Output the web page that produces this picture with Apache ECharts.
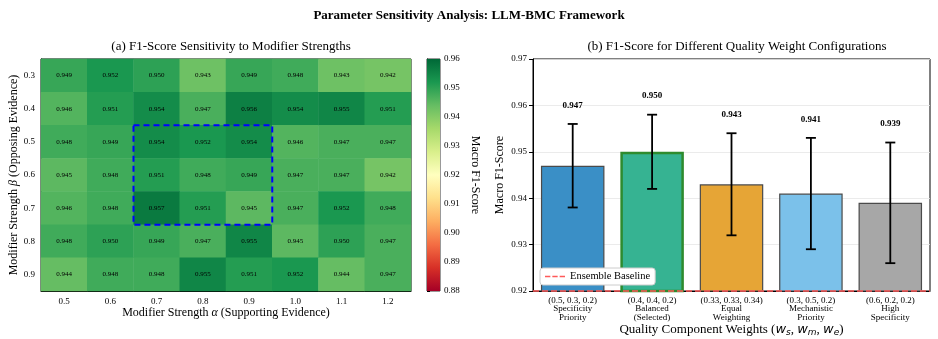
<!DOCTYPE html>
<html>
<head>
<meta charset="utf-8">
<script src="https://cdn.jsdelivr.net/npm/echarts@6/dist/echarts.min.js"></script>
<style>
  html, body { margin: 0; padding: 0; background: #fff; }
  #chart { width: 938px; height: 339px; }
</style>
</head>
<body>
<div id="chart"></div>
<script>
// Heatmap axes
const alphaLabels = ['0.5', '0.6', '0.7', '0.8', '0.9', '1.0', '1.1', '1.2'];
const betaLabels = ['0.3', '0.4', '0.5', '0.6', '0.7', '0.8', '0.9'];
// F1 values, one row per beta (top to bottom), one column per alpha
const f1Grid = [
  [0.949, 0.952, 0.950, 0.943, 0.949, 0.948, 0.943, 0.942],
  [0.946, 0.951, 0.954, 0.947, 0.956, 0.954, 0.955, 0.951],
  [0.948, 0.949, 0.954, 0.952, 0.954, 0.946, 0.947, 0.947],
  [0.945, 0.948, 0.951, 0.948, 0.949, 0.947, 0.947, 0.942],
  [0.946, 0.948, 0.957, 0.951, 0.945, 0.947, 0.952, 0.948],
  [0.948, 0.950, 0.949, 0.947, 0.955, 0.945, 0.950, 0.947],
  [0.944, 0.948, 0.948, 0.955, 0.951, 0.952, 0.944, 0.947]
];
// highlighted region: alpha index from..to, beta index from..to
const selectedBox = [2, 4, 2, 4];
const colorbarRange = [0.88, 0.96];

// Bar chart data
const weightConfigs = [
  '(0.5, 0.3, 0.2)\nSpecificity\nPriority',
  '(0.4, 0.4, 0.2)\nBalanced\n(Selected)',
  '(0.33, 0.33, 0.34)\nEqual\nWeighting',
  '(0.3, 0.5, 0.2)\nMechanistic\nPriority',
  '(0.6, 0.2, 0.2)\nHigh\nSpecificity'
];
const f1Means = [0.947, 0.950, 0.943, 0.941, 0.939];
const f1Std = [0.009, 0.008, 0.011, 0.012, 0.013];
const baselineF1 = 0.92;

const barColors = ['#3a8fc6', '#36b392', '#e6a536', '#7bc1ea', '#a7a7a7'];
const rdylgn = ['#a50026', '#d73027', '#f46d43', '#fdae61', '#fee08b', '#ffffbf',
  '#d9ef8b', '#a6d96a', '#66bd63', '#1a9850', '#006837'];

const serif = '"Liberation Serif", "DejaVu Serif", serif';

const heatData = [];
f1Grid.forEach((row, j) => row.forEach((v, i) => heatData.push([i, j, v])));

const chart = echarts.init(document.getElementById('chart'));

const option = {
  animation: false,
  textStyle: { fontFamily: serif, color: '#000' },
  title: [
    { text: 'Parameter Sensitivity Analysis: LLM-BMC Framework', left: 'center', top: 4,
      textStyle: { fontFamily: serif, fontSize: 13, fontWeight: 'bold', color: '#000' } },
    { text: '(a) F1-Score Sensitivity to Modifier Strengths', left: 226, top: 35, textAlign: 'center',
      textStyle: { fontFamily: serif, fontSize: 13, fontWeight: 'normal', color: '#000' } },
    { text: '(b) F1-Score for Different Quality Weight Configurations', left: 732, top: 35, textAlign: 'center',
      textStyle: { fontFamily: serif, fontSize: 13, fontWeight: 'normal', color: '#000' } }
  ],
  legend: {
    data: [{ name: 'Ensemble Baseline',
      icon: 'path://M0,0h8v2h-8z M11,0h8v2h-8z M22,0h8v2h-8z' }],
    left: 540, top: 268,
    orient: 'vertical',
    itemWidth: 20, itemHeight: 2,
    padding: [3, 5],
    backgroundColor: '#fff',
    borderColor: '#ccc', borderWidth: 1, borderRadius: 3,
    textStyle: { fontFamily: serif, fontSize: 10.5, color: '#000' }
  },
  visualMap: {
    show: false,
    seriesIndex: 0,
    min: colorbarRange[0], max: colorbarRange[1],
    inRange: { color: rdylgn }
  },
  grid: [
    { left: 41, top: 59, width: 370, height: 232, outerBoundsMode: 'none',
      show: true, borderColor: '#000', borderWidth: 1 },
    { left: 427, top: 59, width: 13, height: 232, outerBoundsMode: 'none',
      show: true, borderColor: '#000', borderWidth: 0.8 },
    { left: 533, top: 59, width: 397, height: 232, outerBoundsMode: 'none',
      show: true, borderColor: '#000', borderWidth: 1 }
  ],
  xAxis: [
    {
      gridIndex: 0, type: 'category', data: alphaLabels,
      axisLine: { lineStyle: { color: '#000' } },
      axisTick: { alignWithLabel: true, length: 4, lineStyle: { color: '#000' } },
      axisLabel: { fontSize: 9, color: '#000', margin: 6 },
      splitLine: { show: false },
      name: '{t|Modifier Strength }{it|α}{t| (Supporting Evidence)}',
      nameLocation: 'middle', nameGap: 16, nameMoveOverlap: false,
      nameTextStyle: { rich: {
        t: { fontFamily: serif, fontSize: 12, color: '#000' },
        it: { fontFamily: serif, fontSize: 12, fontStyle: 'italic', color: '#000' } } }
    },
    {
      gridIndex: 1, type: 'value', show: false, min: 0, max: 1
    },
    {
      gridIndex: 2, type: 'category', data: weightConfigs,
      axisLine: { lineStyle: { color: '#000' } },
      axisTick: { alignWithLabel: true, length: 4, lineStyle: { color: '#000' } },
      axisLabel: { fontSize: 9, color: '#000', lineHeight: 8.5, margin: 5, interval: 0 },
      name: '{t|Quality Component Weights (}{it|w}{s|s}{t|, }{it|w}{s|m}{t|, }{it|w}{s|e}{t|)}',
      nameLocation: 'middle', nameGap: 31, nameMoveOverlap: false,
      nameTextStyle: { rich: {
        t: { fontFamily: serif, fontSize: 13, color: '#000' },
        it: { fontFamily: '"DejaVu Sans", sans-serif', fontSize: 13, fontStyle: 'italic', color: '#000' },
        s: { fontFamily: '"DejaVu Sans", sans-serif', fontSize: 9, fontStyle: 'italic', color: '#000', padding: [6, 0, 0, 0] } } }
    }
  ],
  yAxis: [
    {
      gridIndex: 0, type: 'category', data: betaLabels, inverse: true,
      axisLine: { lineStyle: { color: '#000' } },
      axisTick: { alignWithLabel: true, length: 4, lineStyle: { color: '#000' } },
      axisLabel: { fontSize: 9, color: '#000', margin: 6 },
      name: '{t|Modifier Strength }{it|β}{t| (Opposing Evidence)}',
      nameLocation: 'middle', nameGap: 21, nameRotate: 90, nameMoveOverlap: false,
      nameTextStyle: { rich: {
        t: { fontFamily: serif, fontSize: 12, color: '#000' },
        it: { fontFamily: serif, fontSize: 12, fontStyle: 'italic', color: '#000' } } }
    },
    {
      gridIndex: 1, type: 'value', position: 'right',
      min: colorbarRange[0], max: colorbarRange[1], interval: 0.01,
      axisLine: { show: true, lineStyle: { color: '#000' } },
      axisTick: { show: true, length: 3, lineStyle: { color: '#000' } },
      axisLabel: { fontSize: 9, color: '#000', margin: 4, formatter: v => v.toFixed(2) },
      splitLine: { show: false },
      name: 'Macro F1-Score', nameLocation: 'middle', nameGap: 29, nameRotate: -90,
      nameMoveOverlap: false,
      nameTextStyle: { fontFamily: serif, fontSize: 12, color: '#000' }
    },
    {
      gridIndex: 2, type: 'value', min: 0.92, max: 0.97, interval: 0.01,
      axisLine: { show: true, lineStyle: { color: '#000' } },
      axisTick: { show: true, length: 4, lineStyle: { color: '#000' } },
      axisLabel: { fontSize: 9, color: '#000', margin: 6, formatter: v => v.toFixed(2) },
      splitLine: { show: true, lineStyle: { color: '#e6e6e6', width: 0.8 } },
      name: 'Macro F1-Score', nameLocation: 'middle', nameGap: 27, nameRotate: 90,
      nameMoveOverlap: false,
      nameTextStyle: { fontFamily: serif, fontSize: 12, color: '#000' }
    }
  ],
  series: [
    {
      type: 'heatmap', xAxisIndex: 0, yAxisIndex: 0,
      data: heatData,
      label: { show: true, fontSize: 7, color: '#000', fontFamily: serif,
        formatter: p => p.value[2].toFixed(3) },
      emphasis: { disabled: true }
    },
    {
      // dashed box around the selected region
      type: 'custom', xAxisIndex: 0, yAxisIndex: 0, silent: true, z: 10,
      data: [selectedBox],
      renderItem: (params, api) => {
        const a = api.coord([api.value(0), api.value(2)]);
        const b = api.coord([api.value(1), api.value(3)]);
        const sz = api.size([1, 1]);
        return {
          type: 'rect',
          shape: { x: a[0] - sz[0] / 2, y: a[1] - sz[1] / 2,
            width: b[0] - a[0] + sz[0], height: b[1] - a[1] + sz[1] },
          style: { fill: 'none', stroke: '#0000ff', lineWidth: 2, lineDash: [6, 4] }
        };
      }
    },
    {
      // colorbar
      type: 'custom', xAxisIndex: 1, yAxisIndex: 1, silent: true,
      data: [[0, colorbarRange[0], 1, colorbarRange[1]]],
      renderItem: (params, api) => {
        const p0 = api.coord([api.value(0), api.value(1)]);
        const p1 = api.coord([api.value(2), api.value(3)]);
        return {
          type: 'rect',
          shape: { x: p0[0], y: p1[1], width: p1[0] - p0[0], height: p0[1] - p1[1] },
          style: { fill: new echarts.graphic.LinearGradient(0, 1, 0, 0,
            rdylgn.map((c, i) => ({ offset: i / (rdylgn.length - 1), color: c }))) }
        };
      }
    },
    {
      type: 'bar', xAxisIndex: 2, yAxisIndex: 2,
      barWidth: '80%',
      data: f1Means.map((v, i) => ({
        value: v,
        itemStyle: {
          color: barColors[i],
          borderColor: i === 1 ? '#2e8b2e' : '#4a4a4a',
          borderWidth: i === 1 ? 2.5 : 1.2
        }
      }))
    },
    {
      // error bars and value labels
      type: 'custom', xAxisIndex: 2, yAxisIndex: 2, z: 5, silent: true,
      data: f1Means.map((v, i) => [i, v, f1Std[i]]),
      renderItem: (params, api) => {
        const x = api.value(0), m = api.value(1), e = api.value(2);
        const top = api.coord([x, m + e]);
        const bot = api.coord([x, m - e]);
        const lbl = api.coord([x, m + e + 0.004]);
        const st = { stroke: '#000', lineWidth: 1.8 };
        return {
          type: 'group',
          children: [
            { type: 'line', shape: { x1: top[0], y1: top[1], x2: bot[0], y2: bot[1] }, style: st },
            { type: 'line', shape: { x1: top[0] - 5, y1: top[1], x2: top[0] + 5, y2: top[1] }, style: st },
            { type: 'line', shape: { x1: bot[0] - 5, y1: bot[1], x2: bot[0] + 5, y2: bot[1] }, style: st },
            { type: 'text', x: lbl[0], y: lbl[1],
              style: { text: m.toFixed(3), fontFamily: serif, fontSize: 9, fontWeight: 'bold',
                fill: '#000', align: 'center', verticalAlign: 'middle' } }
          ]
        };
      }
    },
    {
      name: 'Ensemble Baseline', type: 'line', xAxisIndex: 2, yAxisIndex: 2,
      data: [], symbol: 'none',
      lineStyle: { color: '#ff5a5a', type: 'dashed', width: 1.5 },
      itemStyle: { color: '#ff5a5a' },
      markLine: {
        silent: true, symbol: 'none', label: { show: false },
        lineStyle: { color: '#ff5a5a', type: 'dashed', width: 1.5 },
        data: [{ yAxis: baselineF1 }]
      }
    }
  ]
};

chart.setOption(option);
</script>
</body>
</html>
